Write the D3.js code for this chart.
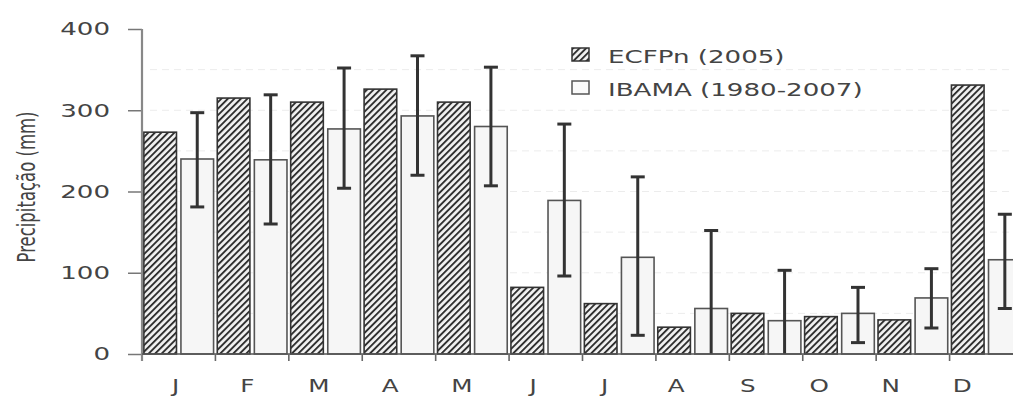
<!DOCTYPE html>
<html lang="pt">
<head>
  <meta charset="UTF-8">
  <title>Precipitação mensal</title>
  <style>
    html, body { margin: 0; padding: 0; background: #fff; }
    svg { display: block; }
    text { font-family: "DejaVu Sans", sans-serif; fill: #444; }
  </style>
</head>
<body>
  <div id="chart"></div>

  <script src="https://d3js.org/d3.v7.min.js"></script>
  <script>
    // Dados
    const months = ["J", "F", "M", "A", "M", "J", "J", "A", "S", "O", "N", "D"];
    const seriesNames = ["ECFPn (2005)", "IBAMA (1980-2007)"];
    const ecfpn = [273, 315, 310, 326, 310, 82, 62, 33, 50, 46, 42, 331];
    const ibama = [240, 239, 277, 293, 280, 189, 119, 56, 41, 50, 69, 116];
    const ibamaUpper = [297, 319, 352, 367, 353, 283, 218, 152, 103, 82, 105, 172];
    const ibamaLower = [181, 160, 204, 220, 207, 96, 23, 0, 0, 14, 32, 56];
    const yTicks = [0, 100, 200, 300, 400];
    const gridValues = [50, 100, 150, 200, 250, 300, 350];

    const W = 1013, H = 396;
    const sx = 1.45; // os textos do original estão esticados na horizontal

    const svg = d3.select("#chart").append("svg")
      .attr("width", W)
      .attr("height", H);

    // padrão hachurado
    const defs = svg.append("defs");
    const pat = defs.append("pattern")
      .attr("id", "hatch")
      .attr("patternUnits", "userSpaceOnUse")
      .attr("width", 4.6)
      .attr("height", 4.6)
      .attr("patternTransform", "rotate(45)");
    pat.append("rect").attr("width", 4.6).attr("height", 4.6).attr("fill", "#f2f2f2");
    pat.append("rect").attr("width", 1.9).attr("height", 4.6).attr("fill", "#303030");

    const y = d3.scaleLinear().domain([0, 400]).range([354, 29]);
    const idx = months.map((d, i) => i);
    const x = d3.scaleBand().domain(idx).range([142, 1023]);
    const inner = d3.scaleBand().domain([0, 1]).range([0, x.bandwidth()])
      .paddingInner(0.12).paddingOuter(0.05);
    const xLabel = d3.scaleBand().domain(idx).range([140, 998]);

    // linhas de grade tracejadas (muito claras)
    svg.append("g")
      .selectAll("line")
      .data(gridValues)
      .enter().append("line")
      .attr("x1", 150).attr("x2", W)
      .attr("y1", d => y(d)).attr("y2", d => y(d))
      .attr("stroke", "#ececec")
      .attr("stroke-width", 1)
      .attr("stroke-dasharray", "7,5");

    // barras ECFPn
    svg.append("g")
      .selectAll("rect")
      .data(ecfpn)
      .enter().append("rect")
      .attr("x", (d, i) => x(i) + inner(0))
      .attr("y", d => y(d))
      .attr("width", inner.bandwidth())
      .attr("height", d => y(0) - y(d))
      .attr("fill", "url(#hatch)")
      .attr("stroke", "#333")
      .attr("stroke-width", 1.6);

    // barras IBAMA
    svg.append("g")
      .selectAll("rect")
      .data(ibama)
      .enter().append("rect")
      .attr("x", (d, i) => x(i) + inner(1))
      .attr("y", d => y(d))
      .attr("width", inner.bandwidth())
      .attr("height", d => y(0) - y(d))
      .attr("fill", "#f6f6f6")
      .attr("stroke", "#555")
      .attr("stroke-width", 1.6);

    // barras de erro
    const cx = i => x(i) + inner(1) + inner.bandwidth() / 2;
    const err = svg.append("g")
      .attr("stroke", "#333")
      .attr("stroke-width", 3);
    err.selectAll(".v")
      .data(idx)
      .enter().append("line")
      .attr("x1", cx).attr("x2", cx)
      .attr("y1", i => y(ibamaUpper[i]))
      .attr("y2", i => y(ibamaLower[i]));
    err.selectAll(".cap-top")
      .data(idx)
      .enter().append("line")
      .attr("x1", i => cx(i) - 7).attr("x2", i => cx(i) + 7)
      .attr("y1", i => y(ibamaUpper[i]))
      .attr("y2", i => y(ibamaUpper[i]));
    err.selectAll(".cap-bot")
      .data(idx.filter(i => ibamaLower[i] > 0))
      .enter().append("line")
      .attr("x1", i => cx(i) - 7).attr("x2", i => cx(i) + 7)
      .attr("y1", i => y(ibamaLower[i]))
      .attr("y2", i => y(ibamaLower[i]));

    // eixo y
    const yAxis = svg.append("g")
      .attr("transform", "translate(142,0)")
      .call(d3.axisLeft(y).tickValues(yTicks).tickSize(14).tickSizeOuter(0).tickPadding(18));
    yAxis.select(".domain").remove();
    yAxis.selectAll(".tick line").attr("stroke", "#777").attr("stroke-width", 1.5);
    yAxis.selectAll(".tick text")
      .attr("x", -32 / sx)
      .attr("transform", `scale(${sx},1)`)
      .style("font-size", "18px")
      .style("fill", "#444");
    svg.append("line")
      .attr("x1", 142).attr("x2", 142)
      .attr("y1", y(400)).attr("y2", y(0) + 7)
      .attr("stroke", "#888").attr("stroke-width", 2.2);

    // eixo x
    svg.append("line")
      .attr("x1", 142).attr("x2", W)
      .attr("y1", y(0)).attr("y2", y(0))
      .attr("stroke", "#555").attr("stroke-width", 1.6);
    svg.append("g")
      .selectAll("line")
      .data(idx.slice(1))
      .enter().append("line")
      .attr("x1", i => x(i)).attr("x2", i => x(i))
      .attr("y1", y(0)).attr("y2", y(0) + 7)
      .attr("stroke", "#666").attr("stroke-width", 1.6);

    const xAxis = svg.append("g")
      .attr("transform", `translate(0,${y(0)})`)
      .call(d3.axisBottom(xLabel).tickSize(0).tickPadding(26).tickFormat(i => months[i]));
    xAxis.select(".domain").remove();
    xAxis.selectAll(".tick text")
      .attr("transform", `scale(${sx},1)`)
      .style("font-size", "17px")
      .style("fill", "#444");

    // título do eixo y
    svg.append("text")
      .attr("transform", `translate(27,187) scale(${sx},1) rotate(-90)`)
      .attr("text-anchor", "middle")
      .attr("dy", "0.35em")
      .style("font-size", "16.5px")
      .text("Precipitação (mm)");

    // legenda
    const legend = svg.append("g").attr("transform", "translate(572,48)");
    const item = legend.selectAll("g")
      .data(seriesNames)
      .enter().append("g")
      .attr("transform", (d, i) => `translate(0,${i * 33})`);
    item.append("rect")
      .attr("width", 17).attr("height", 13)
      .attr("fill", (d, i) => i === 0 ? "url(#hatch)" : "#fafafa")
      .attr("stroke", (d, i) => i === 0 ? "#333" : "#555")
      .attr("stroke-width", 1.5);
    item.append("text")
      .attr("transform", `translate(36,9) scale(${sx},1)`)
      .attr("dy", "0.36em")
      .style("font-size", "18px")
      .text(d => d);
  </script>
</body>
</html>
